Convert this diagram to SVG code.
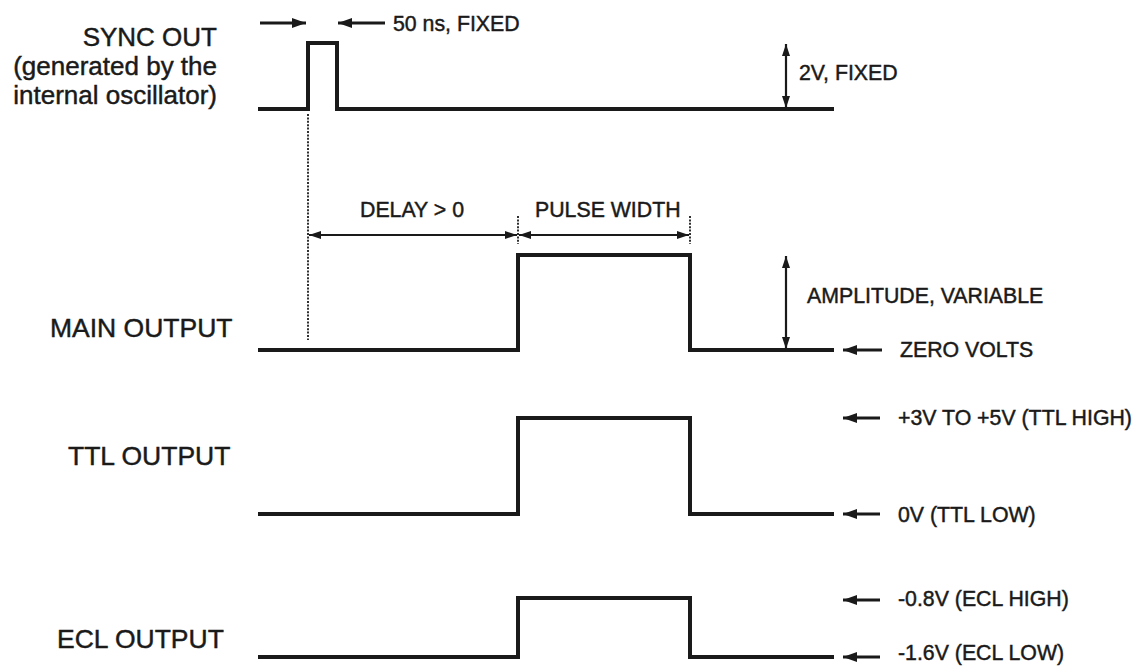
<svg xmlns="http://www.w3.org/2000/svg" width="1137" height="666" viewBox="0 0 1137 666">
<defs>
<style>
text{font-family:"Liberation Sans",Arial,sans-serif;fill:#1a1a1a;stroke:#1a1a1a;stroke-width:0.45}
.lbl{font-size:26.5px}
.syn{font-size:26px}
.sm{font-size:21.3px}
.sig{fill:none;stroke:#1a1a1a;stroke-width:4;stroke-linejoin:miter}
.arr{fill:none;stroke:#1a1a1a;stroke-width:2.2}
.ptr{fill:none;stroke:#1a1a1a;stroke-width:2.8}
.dot{fill:none;stroke:#1a1a1a;stroke-width:1.8;stroke-dasharray:2 1.4}
</style>
<marker id="ah" viewBox="0 0 12 8" refX="12" refY="4" markerWidth="12" markerHeight="8" markerUnits="userSpaceOnUse" orient="auto-start-reverse">
<path d="M0,0 L12,4 L0,8 Z" fill="#1a1a1a"/>
</marker>
<marker id="ph" viewBox="0 0 14 10" refX="14" refY="5" markerWidth="14" markerHeight="10" markerUnits="userSpaceOnUse" orient="auto">
<path d="M0,0 L14,5 L0,10 Z" fill="#1a1a1a"/>
</marker>
</defs>
<rect width="1137" height="666" fill="#ffffff"/>

<g id="sync">
<text class="syn" x="217" y="46" text-anchor="end">SYNC OUT</text>
<text class="syn" x="217" y="75" text-anchor="end">(generated by the</text>
<text class="syn" x="217" y="104" text-anchor="end">internal oscillator)</text>
<path class="sig" d="M258,109 H308 V43 H337 V109 H834"/>
<text class="sm" x="393" y="31">50 ns, FIXED</text>
<text class="sm" x="799" y="80">2V, FIXED</text>
</g>

<g id="main">
<text class="lbl" x="50" y="337">MAIN OUTPUT</text>
<path class="sig" d="M258,350 H518 V255 H690 V350 H834"/>
<text class="sm" x="360" y="217">DELAY &gt; 0</text>
<text class="sm" x="535" y="217">PULSE WIDTH</text>
<text class="sm" x="807" y="303">AMPLITUDE, VARIABLE</text>
<text class="sm" x="900" y="357">ZERO VOLTS</text>
</g>

<g id="ttl">
<text class="lbl" x="68" y="465">TTL OUTPUT</text>
<path class="sig" d="M258,514 H518 V418 H690 V514 H834"/>
<text class="sm" x="898" y="425">+3V TO +5V (TTL HIGH)</text>
<text class="sm" x="898" y="522">0V (TTL LOW)</text>
</g>

<g id="ecl">
<text class="lbl" x="57" y="648">ECL OUTPUT</text>
<path class="sig" d="M258,657 H518 V598 H690 V657 H834"/>
<text class="sm" x="898" y="606">-0.8V (ECL HIGH)</text>
<text class="sm" x="898" y="660">-1.6V (ECL LOW)</text>
</g>

<g id="connectors">
<line class="ptr" x1="260" y1="23" x2="306" y2="23" marker-end="url(#ph)"/>
<line class="ptr" x1="385" y1="23" x2="338" y2="23" marker-end="url(#ph)"/>
<line class="arr" x1="786" y1="44" x2="786" y2="108" marker-start="url(#ah)" marker-end="url(#ah)"/>
<line class="dot" x1="308" y1="114" x2="308" y2="340"/>
<line class="dot" x1="518" y1="216" x2="518" y2="244"/>
<line class="dot" x1="690" y1="216" x2="690" y2="244"/>
<line class="arr" x1="309" y1="235" x2="517" y2="235" marker-start="url(#ah)" marker-end="url(#ah)"/>
<line class="arr" x1="519" y1="235" x2="689" y2="235" marker-start="url(#ah)" marker-end="url(#ah)"/>
<line class="arr" x1="786" y1="256" x2="786" y2="349" marker-start="url(#ah)" marker-end="url(#ah)"/>
<line class="ptr" x1="882" y1="350" x2="843" y2="350" marker-end="url(#ph)"/>
<line class="ptr" x1="880" y1="418" x2="843" y2="418" marker-end="url(#ph)"/>
<line class="ptr" x1="880" y1="514" x2="843" y2="514" marker-end="url(#ph)"/>
<line class="ptr" x1="880" y1="600" x2="843" y2="600" marker-end="url(#ph)"/>
<line class="ptr" x1="880" y1="657" x2="843" y2="657" marker-end="url(#ph)"/>
</g>
</svg>
